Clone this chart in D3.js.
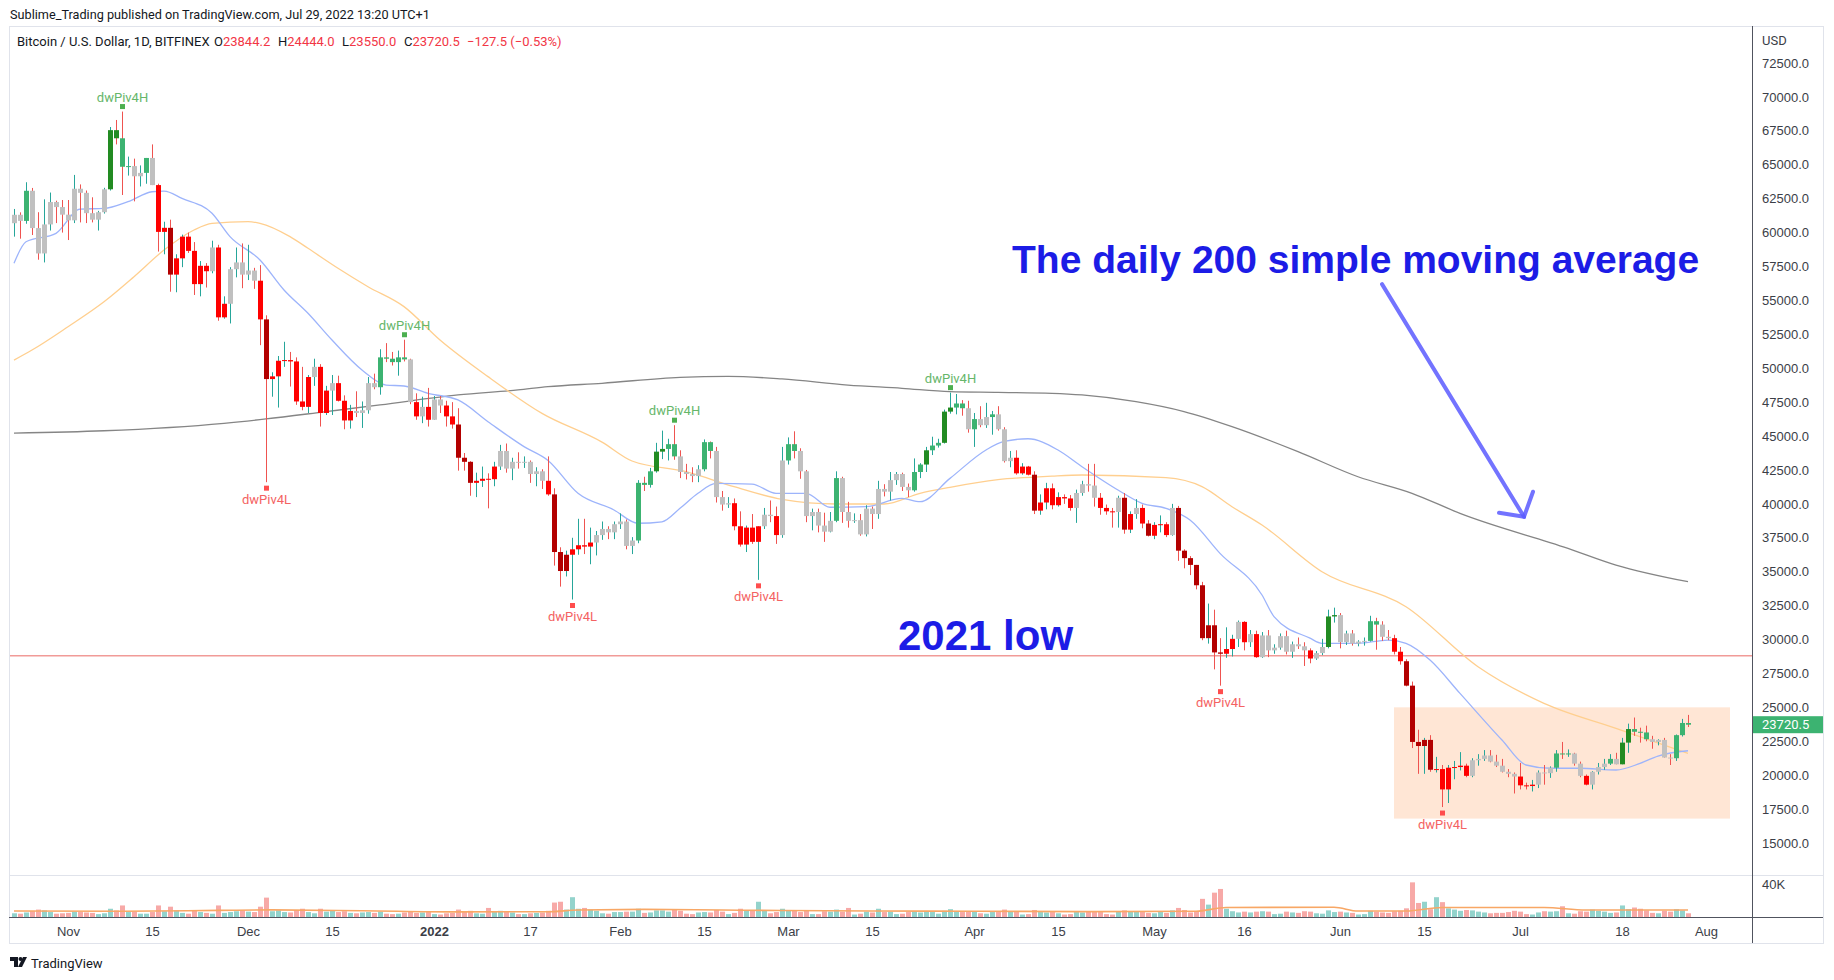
<!DOCTYPE html>
<meta charset="utf-8">
<style>
 body { margin: 0; background: #fff; }
 svg { font-family: Roboto, "Liberation Sans", sans-serif; }
 .axis text { fill: #3b3e47; font-size: 13px; }
 .axis path, .axis line { display: none; }
 .frame { fill: none; stroke: #e0e3eb; stroke-width: 1; }
 .ma { fill: none; stroke-width: 1.3; }
 .note { font-family: "Liberation Sans", Arial, sans-serif; font-weight: bold; fill: #1c1ce6; }
 .piv { font-size: 13px; }
</style>

<svg width="1834" height="980"></svg>

<script src="https://cdn.jsdelivr.net/npm/d3@7"></script>
<script>

 // daily candles, Bitfinex BTCUSD, one per day from firstDay on
 const firstDay = '2021-10-23'

 const opens = [
   60690,61310,60860,63080,60330,58460,60600,62250,61880,
   61320,60900,63230,62930,61430,60950,61500,63190,67550,66950,64850,64900,64150,64400,65500,63500,60050,60350,56900,58100,59700,58650,56200,57550,57150,58900,53750,54750,57300,57800,
   56900,57200,56450,53600,49200,49400,50550,50600,50500,47550,47150,49350,50100,46700,48350,48900,47600,46150,46850,46700,46900,48900,48600,50800,50700,50450,50800,50650,47500,46450,47150,
   46200,47700,47250,46450,45850,43400,43100,41550,41700,41850,41820,42750,43900,42600,43100,43080,43100,42200,42400,41700,40700,36450,35050,36250,36650,36950,36850,37150,37700,38150,37900,
   38500,38700,36900,37300,41550,41400,42400,43850,44050,44400,43500,42350,42200,42050,42550,44550,43900,40500,39950,40050,38350,37000,38250,37200,38350,39200,39100,37700,
   43200,44400,43900,42400,39100,39400,38400,37950,38750,41900,39400,38750,38800,37750,39650,39250,41100,40900,41750,42200,41250,41000,42350,42900,43950,44300,44500,46800,47100,47400,47050,
   45500,46250,45800,46400,46600,45500,43150,43400,42250,42750,42150,39500,40100,41150,39900,40500,40400,39700,40800,41450,41350,40450,39700,39450,39400,40450,38100,39250,39700,38550,
   37650,38450,38500,37700,39700,36550,36000,35500,34000,30100,31050,29050,28950,29300,30050,31300,29800,30400,28700,30300,29200,29400,30250,29100,29650,29500,29200,28600,29000,29450,31700,
   31800,29800,30450,29700,29850,29900,31350,31100,30200,30100,29100,28400,26600,22450,22150,22600,20400,20450,18950,20550,20600,20700,19950,21100,21200,21450,21000,20700,20250,20100,
   19900,19250,19200,19300,20200,20150,20550,21600,21580,21600,20850,19950,19300,20250,20600,20850,21200,20800,22400,23400,23200,23150,22650,22450,22600,21300,21250,22950,23844.2
 ]

 const highs = [
   61740,61490,63710,63290,61500,62450,62950,62350,62400,
   62400,64250,63550,63100,62600,61600,63300,67780,68300,68920,65600,65450,64950,65500,66500,63600,60800,60950,58400,59850,60000,59300,57900,57750,59400,59100,55300,57450,58900,59200,
   59100,57400,57600,53900,49700,50900,51950,51200,50800,50100,49500,50700,50300,48700,49500,49450,48000,47300,48300,47550,49350,49600,51400,51850,51200,51300,52100,50700,48150,47900,48550,
   47950,47950,47600,47500,47050,43750,43150,42300,42750,42250,43100,44350,44450,43400,43800,43500,43200,42700,42550,43500,41150,36800,36550,37500,38900,38900,38250,38000,38700,38350,38700,
   39300,38850,37550,41750,42000,42650,44500,45400,44800,45800,43950,42950,42700,42850,44750,44600,44200,40950,40500,40400,39450,38400,39250,37600,39700,40250,39800,44200,
   44900,45350,44100,42500,39650,39650,39350,39400,42400,42000,40150,39300,39250,39900,39800,41700,41450,42350,42350,42300,41500,43350,43000,44200,44950,44800,46950,48200,48100,47650,47600,
   46700,47200,47450,46850,47200,45650,43900,43950,43000,42800,42400,40700,41550,41500,40850,40700,40650,41050,41700,42950,42950,40800,39950,39700,40600,40800,39450,40350,39950,38800,
   38650,39150,38650,40000,39850,36650,36150,35500,34250,32650,32200,30100,30900,30350,31400,31350,30700,30650,30550,30700,29650,30450,30650,29850,30150,29800,29350,29150,30050,32200,32350,
   31950,30650,30700,29950,30150,31750,31600,31350,30700,30350,29450,28550,26900,23350,22750,22950,21350,20750,20750,21050,21700,20850,21250,21550,21850,21850,21500,21200,20450,20200,
   20900,19450,19650,20350,20750,20650,21850,22450,21900,21650,21000,20050,20300,20900,21200,21550,21650,22750,23800,24250,23500,23650,22900,22650,22750,21550,23000,24150,24444.0
 ]

 const lows = [
   59700,59550,60650,59820,58000,57800,60150,60700,60000,
   59450,60700,60750,60700,60750,60150,61400,63100,66500,62770,64200,62300,63400,63600,63500,58600,58400,55640,55600,57450,58500,55400,55300,55950,57000,53500,53650,53300,56700,55900,
   56500,55850,51700,41600,47900,47100,50100,48650,47300,46900,46700,48700,45700,46550,46550,47550,45500,45550,46400,45600,46650,48450,48050,50450,50200,49450,50500,47350,46200,45950,45700,
   46200,46700,45700,45550,42450,42450,40600,40500,41250,39670,41300,42500,42300,41750,42600,42650,41550,41300,41100,40600,35450,33900,34650,32950,36250,36300,35550,36200,37350,37400,37400,
   38150,36650,36300,37100,40950,41200,42300,43300,43200,43250,41900,41800,41600,41600,42400,43350,40100,39500,39700,38050,36850,36450,37050,34400,38150,38650,37050,37500,
   42900,43350,41850,38650,38050,37900,37200,37900,38650,38600,38250,38600,37650,37600,38150,38900,40550,40250,41400,40950,40500,40900,41900,42350,43600,44150,44450,46650,46600,46500,45250,
   44200,45650,45600,45100,45400,43050,42700,42150,42150,42100,39250,39200,39600,39600,39800,40000,39500,38600,40600,40900,39800,39200,39200,38250,38250,37800,37850,38900,38200,37600,
   37400,37900,37550,37650,35800,35250,34750,33700,29950,29700,27800,26600,28650,28750,29450,29200,29450,28650,28650,28700,28950,29250,28900,28650,29300,28050,28250,28500,28850,29350,31250,
   29350,29600,29550,29500,29550,29850,29250,29900,29950,28900,28150,26550,22000,20100,20100,20250,20200,17650,17950,19700,20350,19850,19850,20700,21050,20950,20600,20200,19850,18650,
   18950,18950,18800,19050,19300,19800,20250,21200,21350,20700,19850,19250,18950,20050,20400,20750,20800,20800,21650,22900,22400,22500,21950,22200,21300,20750,21050,22850,23550.0
 ]

 const closes = [
   61310,60860,63080,60330,58460,60600,62250,61880,61320,
   60900,63230,62930,61430,60950,61500,63190,67550,66950,64850,64900,64150,64400,65500,63500,60050,60350,56900,58100,59700,58650,56200,57550,57150,58900,53750,54750,57300,57800,56900,
   57200,56450,53600,49200,49400,50550,50600,50500,47550,47150,49350,50100,46700,48350,48900,47600,46150,46850,46700,46900,48900,48600,50800,50700,50450,50800,50650,47500,46450,47150,46200,
   47700,47250,46450,45850,43400,43100,41550,41700,41850,41820,42750,43900,42600,43100,43080,43100,42200,42400,41700,40700,36450,35050,36250,36650,36950,36850,37150,37700,38150,37900,38500,
   38700,36900,37300,41550,41400,42400,43850,44050,44400,43500,42350,42200,42050,42550,44550,43900,40500,39950,40050,38350,37000,38250,37200,38350,39200,39100,37700,43200,
   44400,43900,42400,39100,39400,38400,37950,38750,41900,39400,38750,38800,37750,39650,39250,41100,40900,41750,42200,41250,41000,42350,42900,43950,44300,44500,46800,47100,47400,47050,45500,
   46250,45800,46400,46600,45500,43150,43400,42250,42750,42150,39500,40100,41150,39900,40500,40400,39700,40800,41450,41350,40450,39700,39450,39400,40450,38100,39250,39700,38550,37650,
   38450,38500,37700,39700,36550,36000,35500,34000,30100,31050,29050,28950,29300,30050,31300,29800,30400,28700,30300,29200,29400,30250,29100,29650,29500,29200,28600,29000,29450,31700,31800,
   29800,30450,29700,29850,29900,31350,31100,30200,30100,29100,28400,26600,22450,22150,22600,20400,20450,18950,20550,20600,20700,19950,21100,21200,21450,21000,20700,20250,20100,19900,
   19250,19200,19300,20200,20150,20550,21600,21580,21600,20850,19950,19300,20250,20600,20850,21200,20800,22400,23400,23200,23150,22650,22450,22600,21300,21250,22950,23848.0,23720.5
 ]

 // volume in thousands of BTC
 const volumesK = [
   4.5,4.0,5.5,7.5,9.0,8.0,6.0,4.0,4.5,
   5.0,6.5,6.0,5.5,5.0,3.5,4.5,10.0,8.0,14.0,6.0,6.5,4.0,4.0,6.0,14.0,7.0,12.5,8.0,5.0,4.0,7.5,6.0,5.0,4.0,14.0,5.0,6.0,7.0,8.0,
   6.5,6.0,12.5,23.5,7.0,8.0,6.0,5.5,8.5,10.0,6.0,4.5,10.0,6.5,7.5,6.0,7.0,5.0,4.5,5.5,6.0,5.0,6.5,4.0,3.5,4.0,5.5,7.0,5.0,5.5,6.0,
   3.5,3.0,4.5,5.0,9.0,6.5,7.5,4.5,4.0,11.0,6.5,7.5,6.0,5.5,3.5,3.5,4.5,5.0,5.5,7.5,17.5,18.5,9.0,24.0,10.0,11.0,9.0,7.5,4.5,4.0,6.0,
   6.0,6.5,6.5,10.0,5.0,5.5,8.0,8.0,6.5,9.0,7.5,4.0,3.5,5.5,6.0,5.5,8.5,6.5,3.5,5.0,10.0,8.0,7.5,18.5,7.5,4.5,6.0,10.0,
   8.5,7.5,6.0,8.5,3.5,3.5,7.0,6.5,9.0,6.5,11.0,3.0,4.0,6.5,5.5,10.0,6.0,6.5,3.5,4.0,6.0,7.0,5.5,7.0,6.0,4.0,7.5,9.5,7.0,6.0,7.0,
   7.0,4.5,4.0,6.0,6.0,9.0,6.5,7.0,3.0,3.5,8.5,6.0,5.5,6.0,4.5,3.0,3.5,6.0,5.5,6.5,7.0,6.0,3.5,3.0,7.0,8.0,6.5,7.0,6.0,5.0,
   4.5,6.0,5.0,8.0,11.0,8.5,5.5,7.0,22.0,15.0,29.5,34.0,10.0,7.0,5.5,6.5,5.5,6.5,7.0,6.5,3.5,4.0,6.5,5.5,5.0,7.0,6.5,4.5,4.0,8.0,6.0,
   6.5,5.5,5.0,3.0,3.5,7.5,6.5,5.5,5.0,7.0,7.5,10.5,42.0,17.0,18.5,9.5,24.0,18.0,10.5,9.0,7.5,8.5,8.0,6.5,5.5,4.5,5.0,5.0,6.0,7.5,
   6.5,3.5,3.0,5.5,7.0,6.5,7.0,13.0,4.5,4.0,7.0,6.5,9.0,7.5,6.5,5.0,5.5,14.0,9.5,11.5,10.0,8.0,5.0,4.5,7.5,6.5,9.5,8.0,4.5
 ]

 // bar colouring of the indicator: g grey, G green, F dark green, r red, R dark red
 const barColors =
   'ggGgggggg' +
   'gggggggFFGGggGgrrRrrrrrrgrrggg' +
   'ggrRrrrrrrrgrrgrrrggggGGGGGgrgr' +
   'ggrrRRRrrrrggggggggrRRRrrrrgggg' +
   'gggGGGFFGGggggGGgggrrrrrggrg' +
   'GGggggggGggggggggggggGGFGGFFGGg' +
   'GggGgggrrrRrrrrrrggggrrrgRrgrR' +
   'rrrgRRRRRRRRrrgrgrggggggggrggFF' +
   'gggggGGggrrRRRRRrrrrrrgggggggg' +
   'rrrgggGGGggrgggGgFFGGGggggGGG'

 // moving averages
 const sma20 = [
   ['2021-10-23',57730],['2021-10-25',59320],['2021-10-30',59940],['2021-11-03',61730],['2021-11-07',61780],
   ['2021-11-11',62280],['2021-11-15',63010],['2021-11-17',63060],['2021-11-20',62520],['2021-11-25',61420],
   ['2021-11-28',59700],['2021-12-03',57980],['2021-12-07',55770],['2021-12-11',54050],['2021-12-15',52080],
   ['2021-12-20',49870],['2021-12-24',48760],['2021-12-27',48690],['2021-12-31',48150],['2022-01-05',47660],
   ['2022-01-10',46060],['2022-01-16',44220],['2022-01-20',43200],['2022-01-25',40780],['2022-01-31',39550],
   ['2022-02-04',38570],['2022-02-08',38680],['2022-02-11',39670],['2022-02-14',40780],['2022-02-17',41510],
   ['2022-02-23',41460],['2022-02-27',40780],['2022-03-04',40780],['2022-03-08',39750],['2022-03-14',39790],
   ['2022-03-20',40400],['2022-03-23',40160],['2022-03-28',41880],['2022-04-03',43970],['2022-04-06',44600],
   ['2022-04-10',44800],['2022-04-15',43970],['2022-04-19',42740],['2022-04-25',41020],['2022-04-29',40040],
   ['2022-05-03',39670],['2022-05-07',38810],['2022-05-12',36350],['2022-05-19',33280],['2022-05-21',31690],
   ['2022-05-27',30100],['2022-05-29',29720],['2022-06-04',29720],['2022-06-09',29960],['2022-06-12',29720],
   ['2022-06-16',28490],['2022-06-21',26030],['2022-06-28',22590],['2022-07-02',20750],['2022-07-06',20510],
   ['2022-07-11',20510],['2022-07-17',20380],['2022-07-21',20870],['2022-07-24',21410],['2022-07-29',21800]
 ]

 const sma50 = [
   ['2021-10-23',50600],['2021-10-26',51340],['2021-11-01',53060],['2021-11-07',54900],['2021-11-12',56750],
   ['2021-11-17',58710],['2021-11-22',60190],['2021-11-25',60680],['2021-12-01',60800],['2021-12-03',60680],
   ['2021-12-08',59700],['2021-12-11',58840],['2021-12-16',57370],['2021-12-21',56010],['2021-12-27',54540],
   ['2022-01-02',52080],['2022-01-10',49380],['2022-01-19',46670],['2022-01-29',44550],['2022-02-03',43160],
   ['2022-02-12',42370],['2022-02-20',41270],['2022-02-28',40330],['2022-03-09',39990],['2022-03-17',39990],
   ['2022-03-23',40780],['2022-03-28',41220],['2022-04-05',41780],['2022-04-14',42050],['2022-04-19',42130],
   ['2022-05-03',41930],['2022-05-09',41270],['2022-05-14',39790],['2022-05-19',38440],['2022-05-29',35000],
   ['2022-06-12',32420],['2022-06-24',27990],['2022-07-05',25290],['2022-07-17',23450],['2022-07-29',21610]
 ]

 const sma200 = [
   ['2021-10-23',45220],['2021-11-07',45390],['2021-11-27',45940],['2021-12-04',46260],['2021-12-14',46800],
   ['2021-12-23',47290],['2022-01-05',48030],['2022-01-15',48400],['2022-01-20',48640],['2022-01-29',48890],
   ['2022-02-11',49330],['2022-02-19',49400],['2022-02-28',49210],['2022-03-11',48760],['2022-03-20',48520],
   ['2022-03-28',48270],['2022-04-05',48220],['2022-04-14',48150],['2022-04-19',48030],['2022-04-28',47530],
   ['2022-05-06',46800],['2022-05-14',45690],['2022-05-25',43850],['2022-06-04',42000],['2022-06-13',40780],
   ['2022-06-21',39300],['2022-07-09',36720],['2022-07-17',35490],['2022-07-29',34260]
 ]

 const volumeMa = [
   ['2021-10-23',7.2],['2021-11-10',7.0],['2021-11-26',8.0],['2021-12-05',8.6],['2021-12-20',7.6],
   ['2022-01-05',6.2],['2022-01-20',6.4],['2022-01-25',8.5],['2022-02-05',9.2],['2022-02-18',8.4],
   ['2022-02-28',7.8],['2022-03-15',7.2],['2022-04-01',7.0],['2022-04-20',6.5],['2022-05-08',7.0],
   ['2022-05-13',11.5],['2022-05-31',11.8],['2022-06-04',7.2],['2022-06-12',7.2],['2022-06-18',11.5],
   ['2022-07-05',11.5],['2022-07-12',8.5],['2022-07-29',8.5]
 ]

 const pivots = [
   ['2021-11-10','H'],['2021-12-04','L'],['2021-12-27','H'],['2022-01-24','L'],['2022-02-10','H'],
   ['2022-02-24','L'],['2022-03-28','H'],['2022-05-12','L'],['2022-06-18','L']
 ]

 const priceTicks = [15000,17500,20000,22500,25000,27500,30000,32500,35000,37500,40000,42500,
                     45000,47500,50000,52500,55000,57500,60000,62500,65000,67500,70000,72500]
 const timeTicks = ['2021-11-01','2021-11-15','2021-12-01','2021-12-15','2022-01-01','2022-01-17',
                    '2022-02-01','2022-02-15','2022-03-01','2022-03-15','2022-04-01','2022-04-15',
                    '2022-05-01','2022-05-16','2022-06-01','2022-06-15','2022-07-01','2022-07-18','2022-08-01']
 const timeLabels = ['Nov','15','Dec','15','2022','17','Feb','15','Mar','15','Apr','15',
                     'May','16','Jun','15','Jul','18','Aug']

 const low2021 = 28800
 const rangeBox = {from: '2022-06-10', to: '2022-08-05', top: 25000, bottom: 16800}

 var svg = d3.select('svg')
 var paneL = 9, paneR = 1752, paneT = 26, paneB = 875, volB = 917, frameR = 1823, frameB = 943

 var parse = d3.utcParse('%Y-%m-%d')
 var start = parse(firstDay)

 var x = d3.scaleUtc()
           .domain([parse('2021-11-01'), parse('2022-08-01')])
           .range([68, 1706])
 var y = d3.scaleLinear().domain([15000, 72500]).range([843, 63])
 var yVol = d3.scaleLinear().domain([0, 40]).range([volB, 884])

 var bodyFill = {g: '#c0c0c0', G: '#3cb371', F: '#228b22', r: '#ff0000', R: '#b30000'}
 var upWick = '#26a69a', downWick = '#ef5350'

 var candles = closes.map((c, i) => ({
   date: d3.utcDay.offset(start, i),
   o: opens[i], h: highs[i], l: lows[i], c: c,
   v: volumesK[i], k: barColors[i]
 }))

 svg.append('text')
    .attr('x', 10).attr('y', 19)
    .style('font-size', '12.7px').style('fill', '#131722')
    .text('Sublime_Trading published on TradingView.com, Jul 29, 2022 13:20 UTC+1')

 var defs = svg.append('defs')
 defs.append('clipPath').attr('id', 'pane')
     .append('rect').attr('x', paneL).attr('y', paneT)
     .attr('width', paneR - paneL).attr('height', paneB - paneT)
 defs.append('clipPath').attr('id', 'vpane')
     .append('rect').attr('x', paneL).attr('y', paneB)
     .attr('width', paneR - paneL).attr('height', volB - paneB)

 var plot = svg.append('g').attr('clip-path', 'url(#pane)')

 // range box behind the candles
 plot.append('rect')
     .attr('x', x(parse(rangeBox.from)))
     .attr('y', y(rangeBox.top))
     .attr('width', x(parse(rangeBox.to)) - x(parse(rangeBox.from)))
     .attr('height', y(rangeBox.bottom) - y(rangeBox.top))
     .attr('fill', '#ffe6d5')

 plot.append('line')
     .attr('x1', paneL).attr('x2', paneR)
     .attr('y1', y(low2021)).attr('y2', y(low2021))
     .attr('stroke', '#f19b98').attr('stroke-width', 1.6)

 var maLine = d3.line()
                .x(d => x(parse(d[0])))
                .y(d => y(d[1]))
                .curve(d3.curveMonotoneX)

 plot.append('path').attr('class', 'ma').attr('d', maLine(sma200)).attr('stroke', '#858585')
 plot.append('path').attr('class', 'ma').attr('d', maLine(sma50)).attr('stroke', '#ffcf8f')
 plot.append('path').attr('class', 'ma').attr('d', maLine(sma20)).attr('stroke', '#9db4fb')

 var bars = plot.append('g').selectAll('g')
                .data(candles)
                .join('g')

 bars.append('rect')
     .attr('x', d => Math.round(x(d.date)))
     .attr('width', 1)
     .attr('y', d => y(Math.max(d.h, d.o, d.c)))
     .attr('height', d => y(Math.min(d.l, d.o, d.c)) - y(Math.max(d.h, d.o, d.c)))
     .attr('fill', d => d.c >= d.o ? upWick : downWick)

 bars.append('rect')
     .attr('x', d => Math.round(x(d.date)) - 2)
     .attr('width', 5)
     .attr('y', d => y(Math.max(d.o, d.c)))
     .attr('height', d => Math.max(1, y(Math.min(d.o, d.c)) - y(Math.max(d.o, d.c))))
     .attr('fill', d => bodyFill[d.k])

 // pivot markers
 var byDay = new Map(candles.map(d => [+d.date, d]))
 var piv = plot.append('g').selectAll('g')
               .data(pivots)
               .join('g')
               .attr('transform', p => {
                 var d = byDay.get(+parse(p[0]))
                 var py = p[1] === 'H' ? y(d.h) : y(d.l)
                 return `translate(${Math.round(x(d.date)) + 0.5},${py})`
               })
 piv.append('rect')
    .attr('x', -2.5).attr('width', 5).attr('height', 5)
    .attr('y', p => p[1] === 'H' ? -7.5 : 3.5)
    .attr('fill', p => p[1] === 'H' ? '#4caf50' : '#ff4d4d')
 piv.append('text')
    .attr('class', 'piv')
    .attr('text-anchor', 'middle')
    .attr('y', p => p[1] === 'H' ? -10 : 21.5)
    .attr('fill', p => p[1] === 'H' ? '#66b66a' : '#f46262')
    .text(p => 'dwPiv4' + p[1])

 // annotations
 svg.append('text')
    .attr('class', 'note')
    .attr('x', x(parse('2022-04-07')) + 2)
    .attr('y', y(56990))
    .style('font-size', '39px')
    .text('The daily 200 simple moving average')

 svg.append('text')
    .attr('class', 'note')
    .attr('x', x(parse('2022-03-19')) + 2)
    .attr('y', y(29200))
    .style('font-size', '42px')
    .text('2021 low')

 var a0 = [x(parse('2022-06-08')), y(56200)]
 var a1 = [x(d3.utcHour.offset(parse('2022-07-01'), 16)), y(39050)]
 var arrow = svg.append('g')
                .attr('stroke', '#5b5bff').attr('stroke-opacity', 0.85)
                .attr('stroke-width', 4).attr('fill', 'none')
                .attr('stroke-linecap', 'round')
 arrow.append('path').attr('d', `M${a0}L${a1}`)
 arrow.append('path')
      .attr('d', `M${a1[0] - 25},${a1[1] - 4}L${a1[0]},${a1[1]}L${a1[0] + 9},${a1[1] - 25}`)

 // volume pane
 var vol = svg.append('g').attr('clip-path', 'url(#vpane)')
 vol.selectAll('rect')
    .data(candles)
    .join('rect')
    .attr('x', d => Math.round(x(d.date)) - 2)
    .attr('width', 5)
    .attr('y', d => yVol(d.v))
    .attr('height', d => volB - yVol(d.v))
    .attr('fill', d => d.c >= d.o ? '#93d3cc' : '#f7a9a7')
 vol.append('path')
    .attr('d', d3.line()
                 .x(d => x(parse(d[0])))
                 .y(d => yVol(d[1]))
                 .curve(d3.curveMonotoneX)(volumeMa))
    .attr('fill', 'none').attr('stroke', '#f8a765').attr('stroke-width', 1.6)

 // frame and separators
 svg.append('rect').attr('class', 'frame')
    .attr('x', paneL + 0.5).attr('y', paneT + 0.5)
    .attr('width', frameR - paneL).attr('height', frameB - paneT)
 svg.append('line')
    .attr('x1', paneL).attr('x2', frameR).attr('y1', paneB + 0.5).attr('y2', paneB + 0.5)
    .attr('stroke', '#e0e3eb')
 svg.append('line')
    .attr('x1', paneL).attr('x2', frameR).attr('y1', volB + 0.5).attr('y2', volB + 0.5)
    .attr('stroke', '#50535e')
 svg.append('line')
    .attr('x1', paneR + 0.5).attr('x2', paneR + 0.5).attr('y1', paneT).attr('y2', frameB)
    .attr('stroke', '#50535e')

 // price axis
 svg.append('g')
    .attr('class', 'axis')
    .attr('transform', `translate(${paneR},0)`)
    .call(d3.axisRight(y).tickValues(priceTicks).tickSize(0).tickPadding(10)
            .tickFormat(d => d.toFixed(1)))
 svg.append('text')
    .attr('x', paneR + 10).attr('y', 45)
    .style('font-size', '13px').style('fill', '#3b3e47')
    .text('USD')
 svg.append('g')
    .attr('class', 'axis')
    .attr('transform', `translate(${paneR},0)`)
    .call(d3.axisRight(yVol).tickValues([40]).tickSize(0).tickPadding(10)
            .tickFormat(d => d + 'K'))

 // last price label
 var last = candles[candles.length - 1]
 var prevClose = closes[closes.length - 2]
 svg.append('rect')
    .attr('x', paneR + 1).attr('y', y(last.c) - 8.5)
    .attr('width', frameR - paneR - 1).attr('height', 17)
    .attr('fill', bodyFill[last.k])
 svg.append('text')
    .attr('x', paneR + 10).attr('y', y(last.c) + 4.5)
    .style('font-size', '13px').style('fill', '#fff')
    .text(last.c.toFixed(1))

 // time axis
 var xa = svg.append('g')
             .attr('class', 'axis')
             .attr('transform', `translate(0,${volB})`)
             .call(d3.axisBottom(x).tickValues(timeTicks.map(parse)).tickSize(0).tickPadding(10)
                     .tickFormat((d, i) => timeLabels[i]))
 xa.selectAll('text')
   .filter((d, i) => timeLabels[i] === '2022')
   .style('font-weight', 'bold')

 // legend
 var legend = svg.append('text')
                 .attr('y', 46)
                 .style('font-size', '13px')
 legend.append('tspan').attr('x', 17).attr('fill', '#131722').text('Bitcoin / U.S. Dollar, 1D, BITFINEX')
 var ohlc = [['O', last.o, 214], ['H', last.h, 278], ['L', last.l, 342], ['C', last.c, 404]]
 ohlc.forEach(q => {
   legend.append('tspan').attr('x', q[2]).attr('fill', '#131722').text(q[0])
   legend.append('tspan').attr('fill', '#f23645').text(q[1].toFixed(1))
 })
 var chg = last.c - prevClose
 legend.append('tspan').attr('x', 467).attr('fill', '#f23645')
       .text(`${d3.format('.1f')(chg).replace('-', '−')} (${d3.format('.2f')(chg / prevClose * 100).replace('-', '−')}%)`)

 // footer logo
 var logo = svg.append('g').attr('fill', '#131722')
 logo.append('path').attr('d', 'M10,957h8v10h-4v-6h-4z')
 logo.append('circle').attr('cx', 20.5).attr('cy', 959).attr('r', 2)
 logo.append('path').attr('d', 'M23,957h4l-5,10h-4z')
 svg.append('text')
    .attr('x', 31).attr('y', 968)
    .style('font-size', '13px').style('fill', '#131722')
    .text('TradingView')

</script>
